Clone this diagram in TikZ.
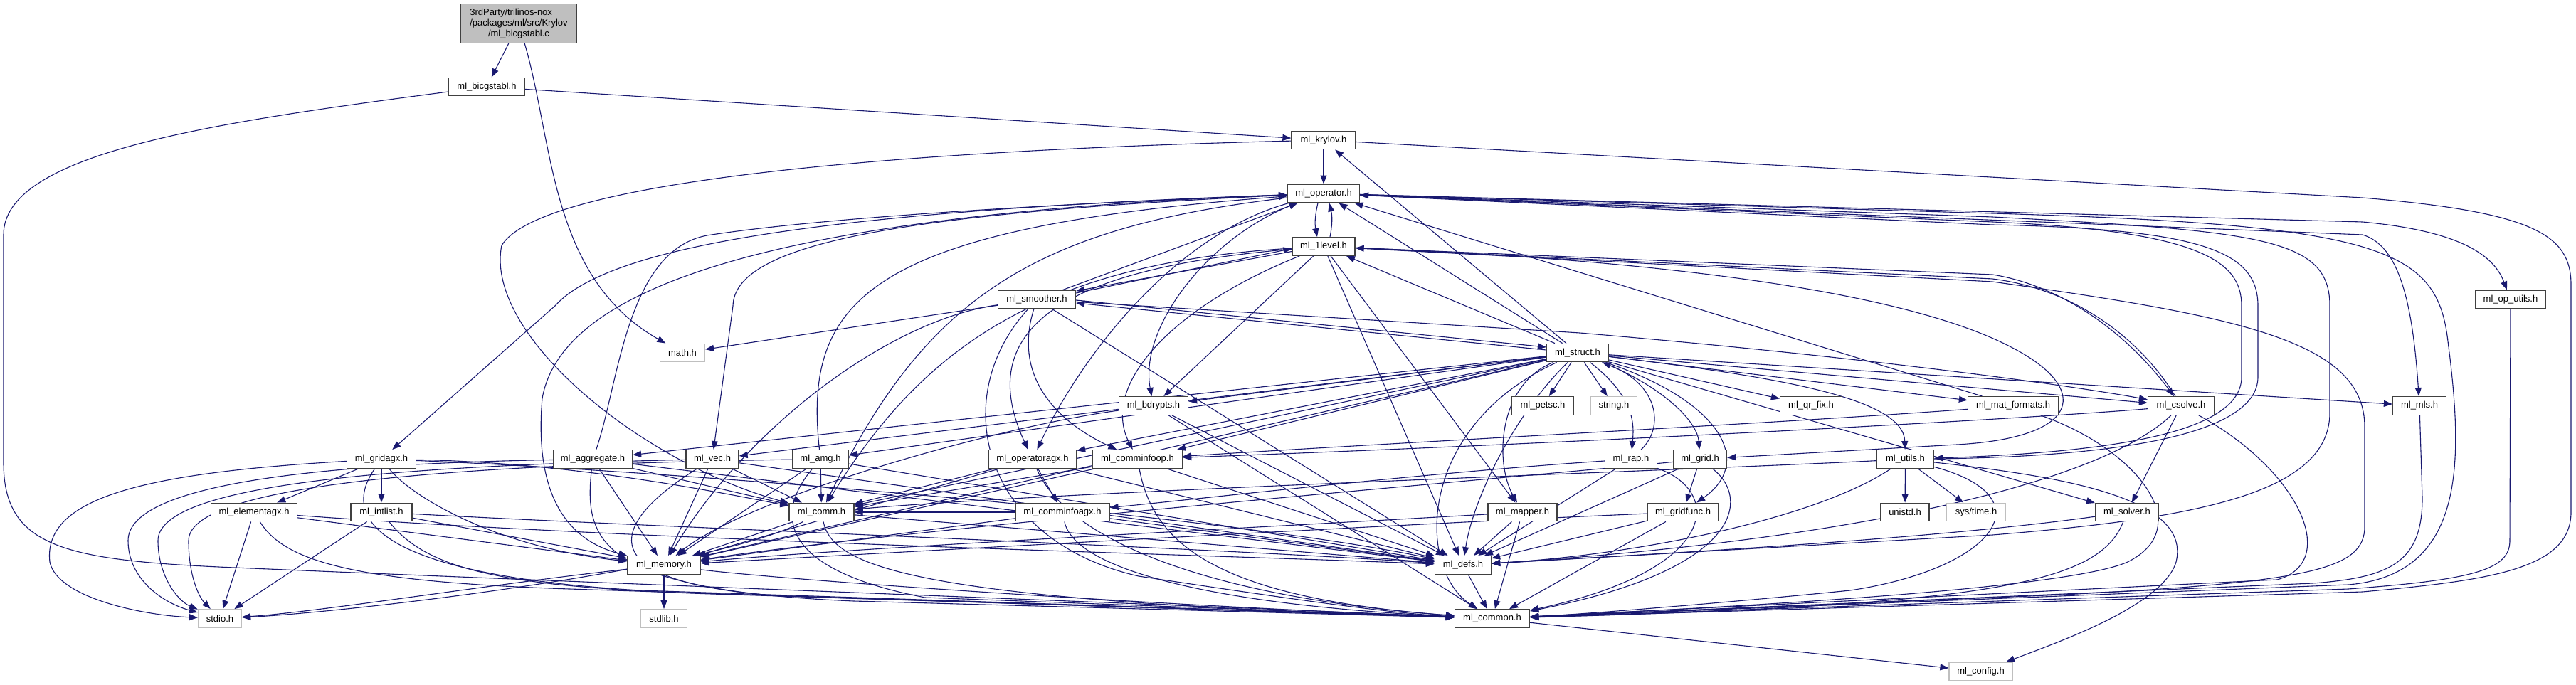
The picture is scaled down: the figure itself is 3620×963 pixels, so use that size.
\documentclass[tikz,border=0pt]{standalone}
\usepackage{fontspec}
\setmainfont{Liberation Sans}
\usetikzlibrary{arrows.meta}
\pgfdeclarelayer{bg}
\pgfsetlayers{bg,main}
\definecolor{edgec}{HTML}{191970}
\definecolor{nodeb}{HTML}{404040}
\definecolor{leafb}{HTML}{BFBFBF}
\definecolor{rootf}{HTML}{BFBFBF}
\begin{document}
\begin{tikzpicture}[x=1pt,y=-1pt,
  box/.style={draw=nodeb,line width=1.3pt,fill=white,minimum height=25.6pt,inner sep=0pt,font=\fontsize{13}{14.7}\selectfont},
  leaf/.style={box,draw=leafb},
  ed/.style={draw=edgec,line width=1.1pt,-{Triangle[length=12pt,width=9pt]}},
]
\useasboundingbox (0,0) rectangle (3620,963);
% ---------------- nodes
\node[box,fill=rootf,minimum width=163pt,minimum height=55pt,align=center] (root) at (729,33)
  {\rlap{3rdParty/trilinos-nox}\phantom{/packages/ml/src/Krylov}\\/packages/ml/src/Krylov\\/ml\_bicgstabl.c};
\node[box,minimum width=107pt] (bicg) at (684,122) {ml\_bicgstabl.h};
\node[box,minimum width=90pt] (krylov) at (1860,197) {ml\_krylov.h};
\node[box,minimum width=101pt] (operator) at (1860,272) {ml\_operator.h};
\node[box,minimum width=88pt] (onelevel) at (1860,346.5) {ml\_1level.h};
\node[box,minimum width=109pt] (smoother) at (1457,421) {ml\_smoother.h};
\node[box,minimum width=99pt] (oputils) at (3528,421) {ml\_op\_utils.h};
\node[box,minimum width=87pt] (structh) at (2217,496) {ml\_struct.h};
\node[leaf,minimum width=63pt] (math) at (959,496) {math.h};
\node[box,minimum width=97pt] (bdrypts) at (1621,570.5) {ml\_bdrypts.h};
\node[box,minimum width=87pt] (petsc) at (2168,570.5) {ml\_petsc.h};
\node[leaf,minimum width=65pt] (string) at (2268,570.5) {string.h};
\node[box,minimum width=87pt] (qrfix) at (2545,570.5) {ml\_qr\_fix.h};
\node[box,minimum width=127pt] (matf) at (2829,570.5) {ml\_mat\_formats.h};
\node[box,minimum width=93pt] (csolve) at (3065,570.5) {ml\_csolve.h};
\node[box,minimum width=75pt] (mls) at (3400,570.5) {ml\_mls.h};
\node[box,minimum width=97pt] (gridagx) at (536,645.5) {ml\_gridagx.h};
\node[box,minimum width=111pt] (aggregate) at (833,645.5) {ml\_aggregate.h};
\node[box,minimum width=74pt] (vec) at (1001,645.5) {ml\_vec.h};
\node[box,minimum width=79pt] (amg) at (1153,645.5) {ml\_amg.h};
\node[box,minimum width=123pt] (operatoragx) at (1451,645.5) {ml\_operatoragx.h};
\node[box,minimum width=126pt] (commfoop) at (1598.5,645.5) {ml\_comminfoop.h};
\node[box,minimum width=73pt] (rap) at (2292,645.5) {ml\_rap.h};
\node[box,minimum width=75pt] (grid) at (2389,645.5) {ml\_grid.h};
\node[box,minimum width=80pt] (utils) at (2677.5,645.5) {ml\_utils.h};
\node[box,minimum width=121pt] (elementagx) at (357,720) {ml\_elementagx.h};
\node[box,minimum width=86pt] (intlist) at (536,720) {ml\_intlist.h};
\node[box,minimum width=91pt] (comm) at (1154.5,720) {ml\_comm.h};
\node[box,minimum width=132pt] (comminfoagx) at (1493,720) {ml\_comminfoagx.h};
\node[box,minimum width=97pt] (mapper) at (2139.5,720) {ml\_mapper.h};
\node[box,minimum width=100pt] (gridfunc) at (2365,720) {ml\_gridfunc.h};
\node[box,minimum width=68pt] (unistd) at (2677,720) {unistd.h};
\node[leaf,minimum width=83pt] (systime) at (2777,720) {sys/time.h};
\node[box,minimum width=89pt] (solver) at (2989,720) {ml\_solver.h};
\node[box,minimum width=102pt] (memory) at (933,794.5) {ml\_memory.h};
\node[box,minimum width=79pt] (defs) at (2056,794.5) {ml\_defs.h};
\node[leaf,minimum width=61pt] (stdio) at (309,869.5) {stdio.h};
\node[leaf,minimum width=65pt] (stdlib) at (933,869.5) {stdlib.h};
\node[box,minimum width=105pt] (common) at (2097,869.5) {ml\_common.h};
\node[leaf,minimum width=89pt] (config) at (2783.5,944) {ml\_config.h};
% ---------------- edges
\begin{pgfonlayer}{bg}
\draw[ed] (root) -- (bicg);
\draw[ed] (root) .. controls (778,200) and (772,390) .. (math);
\draw[ed] (bicg) -- (krylov);
\draw[ed] (bicg) .. controls (300,172) and (5,215) .. (5,330) -- (5,650) .. controls (5,770) and (90,788) .. (330,798) .. controls (800,818) and (1600,848) .. (common);
% krylov
\draw[ed] (krylov) -- (operator);
\draw[ed] (krylov) .. controls (1250,212) and (760,255) .. (705,345) .. controls (680,470) and (900,650) .. (comm);
\draw[ed] (krylov) -- (3320,278) .. controls (3560,298) and (3613,330) .. (3613,400) -- (3613,720) .. controls (3613,800) and (3500,816) .. (3320,832) -- (common);
\draw[ed] (structh) -- (krylov);
% operator
\draw[ed] ([xshift=-8pt]operator.south) to[bend right=12] ([xshift=-9pt]onelevel.north);
\draw[ed] ([xshift=9pt]onelevel.north) to[bend right=12] ([xshift=8pt]operator.south);
\draw[ed] (operator) -- (3320,312) .. controls (3460,325) and (3505,360) .. (oputils);
\draw[ed] (operator) -- (3320,330) .. controls (3370,345) and (3390,420) .. (mls);
\draw[ed] (operator) -- (2800,312) .. controls (3100,325) and (3150,370) .. (3150,430) -- (3150,530) .. controls (3150,610) and (2960,636) .. (utils);
\draw[ed] (utils) .. controls (2980,642) and (3173,610) .. (3173,530) -- (3173,430) .. controls (3173,355) and (3100,322) .. (2800,316) -- (operator);
\draw[ed] (operator) -- (2800,305) .. controls (3180,325) and (3274,335) .. (3274,430) -- (3274,580) .. controls (3274,690) and (3100,728) .. (2800,752) -- (defs);
\draw[ed] (operator) -- (2800,300) .. controls (3350,316) and (3425,350) .. (3440,480) .. controls (3462,650) and (3465,808) .. (3300,822) -- (common);
\draw[ed] (operator) .. controls (1200,295) and (860,340) .. (780,430) -- (gridagx);
\draw[ed] (operator) .. controls (1250,300) and (1032,345) .. (1030,430) -- (vec);
\draw[ed] (operator) .. controls (1100,300) and (790,400) .. (762,560) .. controls (750,700) and (800,760) .. (memory);
\draw[ed] (operator) .. controls (1450,320) and (1300,420) .. (comm);
\draw[ed] (operator) .. controls (1700,330) and (1600,460) .. (bdrypts);
\draw[ed] (operator) .. controls (1650,330) and (1520,500) .. (operatoragx);
\draw[ed] (structh) -- (operator);
\draw[ed] (smoother) -- (operator);
\draw[ed] (matf) -- (operator);
\draw[ed] (aggregate) .. controls (870,540) and (880,345) .. (1000,330) .. controls (1200,300) and (1600,282) .. (operator);
\draw[ed] (amg) .. controls (1128,420) and (1220,320) .. (operator);
% 1level
\draw[ed] (structh) -- (onelevel);
\draw[ed] ([yshift=9pt]smoother.east) -- ([yshift=-3pt]onelevel.west);
\draw[ed] ([yshift=-7pt]onelevel.west) -- ([yshift=12pt]smoother.east);
\draw[ed] (onelevel) -- (bdrypts);
\draw[ed] (onelevel) .. controls (1650,430) and (1545,540) .. (commfoop);
\draw[ed] (onelevel) .. controls (1450,370) and (1290,500) .. (comm);
\draw[ed] (onelevel) .. controls (1520,375) and (1360,450) .. (operatoragx);
\draw[ed] (onelevel) -- (defs);
\draw[ed] (onelevel) -- (mapper);
\draw[ed] (onelevel) .. controls (2400,368) and (2700,420) .. (2830,490) .. controls (2935,545) and (2930,615) .. (2750,625) -- (grid);
\draw[ed] (onelevel) -- (2800,386) .. controls (2900,402) and (2990,470) .. (csolve);
\draw[ed] (csolve) .. controls (3010,480) and (2920,407) .. (2800,392) -- (onelevel);
\draw[ed] (onelevel) -- (2800,396) .. controls (3150,445) and (3323,480) .. (3323,600) -- (3323,740) .. controls (3323,800) and (3250,818) .. (2900,836) -- (common);
% smoother
\draw[ed] (smoother) -- (math);
\draw[ed] (smoother) .. controls (1250,450) and (1050,600) .. (memory);
\draw[ed] (smoother) .. controls (1420,540) and (1500,600) .. (commfoop);
\draw[ed] (smoother) -- (defs);
\draw[ed] (smoother) .. controls (1330,560) and (1380,760) .. (1600,810) .. controls (1800,840) and (1950,862) .. (common);
\draw[ed] (smoother) -- (2220,468) .. controls (2600,500) and (2900,540) .. (csolve);
\draw[ed] ([yshift=-1pt]smoother.east) -- ([yshift=8pt]structh.west);
\draw[ed] ([yshift=4pt]structh.west) -- ([yshift=-5pt]smoother.east);
% struct
\draw[ed] (structh) -- (petsc);
\draw[ed] (structh) -- (string);
\draw[ed] (structh) -- (qrfix);
\draw[ed] (structh) -- (matf);
\draw[ed] (structh) -- (csolve);
\draw[ed] (structh) -- (mls);
\draw[ed] (structh) -- (solver);
\draw[ed] (structh) .. controls (2500,530) and (2675,560) .. (utils);
\draw[ed] (structh) .. controls (2330,540) and (2385,590) .. (grid);
\draw[ed] (structh) .. controls (2420,565) and (2465,650) .. (gridfunc);
\draw[ed] (structh) .. controls (2300,560) and (2296,600) .. (rap);
\draw[ed] (rap) .. controls (2340,600) and (2330,540) .. (structh);
\draw[ed] (structh) .. controls (2105,540) and (2100,650) .. (mapper);
\draw[ed] (structh) .. controls (2130,580) and (2070,700) .. (defs);
\draw[ed] (structh) -- (bdrypts);
\draw[ed] (structh) -- (commfoop);
\draw[ed] (structh) -- (operatoragx);
\draw[ed] (structh) -- (amg);
\draw[ed] (structh) -- (vec);
\draw[ed] (structh) -- (aggregate);
\draw[ed] (structh) -- (comm);
\draw[ed] (structh) -- (memory);
\draw[ed] (structh) .. controls (1990,600) and (1990,800) .. (common);
% csolve, mat_formats, utils, solver
\draw[ed] (csolve) -- (solver);
\draw[ed] (csolve) .. controls (2950,680) and (2600,760) .. (defs);
\draw[ed] (csolve) .. controls (3230,660) and (3290,790) .. (3200,815) -- (common);
\draw[ed] (csolve) .. controls (2900,585) and (2300,620) .. (commfoop);
\draw[ed] (matf) .. controls (2500,595) and (2000,620) .. (commfoop);
\draw[ed] (matf) .. controls (3000,630) and (3090,740) .. (2990,790) .. controls (2900,830) and (2400,855) .. (common);
\draw[ed] (utils) -- (unistd);
\draw[ed] (utils) -- (systime);
\draw[ed] (utils) .. controls (2900,670) and (3080,700) .. (3058,790) .. controls (3040,850) and (2900,900) .. (config);
\draw[ed] (utils) .. controls (2550,730) and (2300,780) .. (defs);
\draw[ed] (utils) .. controls (2880,700) and (2800,800) .. (2600,830) .. controls (2400,850) and (2200,865) .. (common);
\draw[ed] (utils) .. controls (2400,660) and (1500,690) .. (comm);
\draw[ed] (solver) .. controls (2700,760) and (2300,780) .. (defs);
\draw[ed] (solver) .. controls (2950,820) and (2800,850) .. (common);
\draw[ed] (oputils) -- (3527,760) .. controls (3527,800) and (3480,815) .. (3300,828) -- (common);
\draw[ed] (mls) -- (3404,700) .. controls (3404,790) and (3360,812) .. (3250,820) -- (common);
\draw[ed] (defs) -- (common);
\draw[ed] (common) -- (config);
% middle
\draw[ed] (mapper) -- (defs);
\draw[ed] (mapper) -- (common);
\draw[ed] (mapper) .. controls (1800,740) and (1200,770) .. (memory);
\draw[ed] (grid) -- (gridfunc);
\draw[ed] (grid) -- (defs);
\draw[ed] (grid) .. controls (2460,700) and (2450,800) .. (common);
\draw[ed] (grid) .. controls (2200,665) and (1300,740) .. (memory);
\draw[ed] (gridfunc) -- (defs);
\draw[ed] (gridfunc) -- (common);
\draw[ed] (gridfunc) .. controls (2000,735) and (1200,780) .. (memory);
\draw[ed] (rap) -- (defs);
\draw[ed] (rap) .. controls (2420,690) and (2420,800) .. (common);
\draw[ed] (rap) .. controls (2000,665) and (1700,700) .. (comminfoagx);
\draw[ed] (bdrypts) -- (defs);
\draw[ed] (bdrypts) -- (common);
\draw[ed] (bdrypts) .. controls (1400,600) and (1050,700) .. (memory);
\draw[ed] (commfoop) -- (comm);
\draw[ed] (commfoop) -- (memory);
\draw[ed] (commfoop) -- (defs);
\draw[ed] (commfoop) .. controls (1620,760) and (1700,840) .. (common);
\draw[ed] (operatoragx) -- (comminfoagx);
\draw[ed] (operatoragx) -- (comm);
\draw[ed] (operatoragx) -- (memory);
\draw[ed] (operatoragx) -- (defs);
\draw[ed] (operatoragx) .. controls (1500,760) and (1700,840) .. (common);
\draw[ed] (comminfoagx) -- (comm);
\draw[ed] (comminfoagx) -- (memory);
\draw[ed] (comminfoagx) -- (defs);
\draw[ed] (comminfoagx) .. controls (1510,800) and (1700,850) .. (common);
\draw[ed] (comm) -- (memory);
\draw[ed] (comm) .. controls (1000,800) and (500,860) .. (stdio);
\draw[ed] (comm) -- (defs);
\draw[ed] (comm) .. controls (1170,800) and (1300,845) .. (common);
\draw[ed] (memory) -- (stdlib);
\draw[ed] (memory) .. controls (700,820) and (450,860) .. (stdio);
\draw[ed] (memory) .. controls (1100,815) and (1600,850) .. (common);
% left group
\draw[ed] (vec) -- (comm);
\draw[ed] (vec) -- (memory);
\draw[ed] (vec) .. controls (560,655) and (222,680) .. (222,760) .. controls (222,810) and (250,845) .. (stdio);
\draw[ed] (vec) -- (defs);
\draw[ed] (vec) .. controls (850,740) and (830,820) .. (1100,838) -- (common);
\draw[ed] (amg) -- (comm);
\draw[ed] (amg) -- (memory);
\draw[ed] (amg) .. controls (700,652) and (265,675) .. (265,760) .. controls (265,810) and (280,840) .. (stdio);
\draw[ed] (amg) -- (defs);
\draw[ed] (amg) .. controls (1090,720) and (1090,800) .. (1300,840) -- (common);
\draw[ed] (aggregate) -- (comm);
\draw[ed] (aggregate) -- (memory);
\draw[ed] (aggregate) .. controls (450,652) and (180,680) .. (180,760) .. controls (180,815) and (230,848) .. (stdio);
\draw[ed] (aggregate) -- (defs);
\draw[ed] (aggregate) .. controls (820,760) and (840,830) .. (1200,845) -- (common);
\draw[ed] (gridagx) -- (elementagx);
\draw[ed] (gridagx) -- (intlist);
\draw[ed] (gridagx) .. controls (200,665) and (60,700) .. (70,790) .. controls (80,840) and (200,865) .. (stdio);
\draw[ed] (gridagx) .. controls (580,700) and (700,770) .. (memory);
\draw[ed] (gridagx) .. controls (800,650) and (1000,690) .. (comm);
\draw[ed] (gridagx) .. controls (900,660) and (1700,720) .. (defs);
\draw[ed] (gridagx) .. controls (470,740) and (560,810) .. (900,830) -- (common);
\draw[ed] (elementagx) -- (stdio);
\draw[ed] (elementagx) -- (memory);
\draw[ed] (elementagx) .. controls (900,760) and (1700,780) .. (defs);
\draw[ed] (elementagx) .. controls (400,790) and (500,818) .. (800,828) -- (common);
\draw[ed] (intlist) -- (stdio);
\draw[ed] (intlist) -- (memory);
\draw[ed] (intlist) .. controls (900,740) and (1700,770) .. (defs);
\draw[ed] (intlist) .. controls (600,800) and (700,825) .. (1000,835) -- (common);
\end{pgfonlayer}
\end{tikzpicture}
\end{document}
